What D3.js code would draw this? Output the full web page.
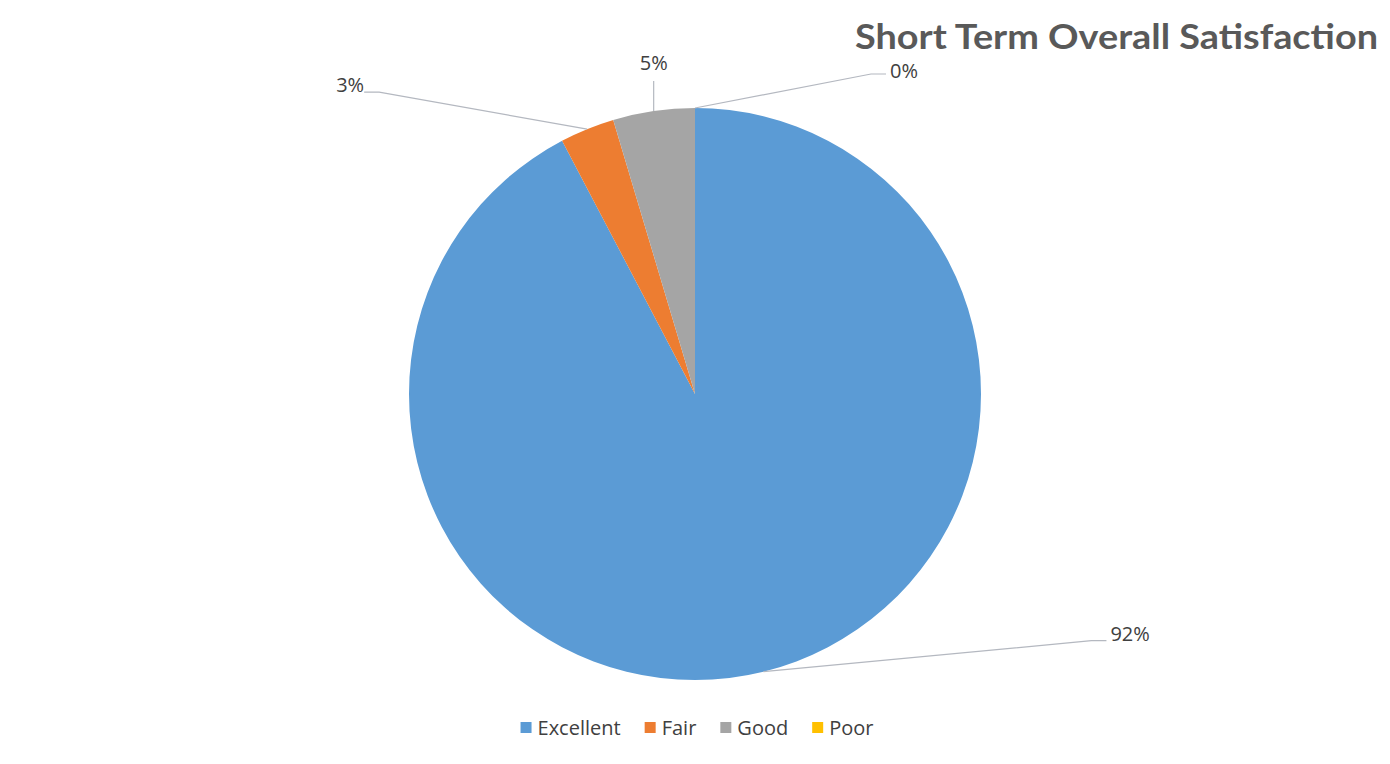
<!DOCTYPE html>
<html>
<head>
<meta charset="utf-8">
<script src="https://cdn.jsdelivr.net/npm/d3@7"></script>
<style>
  body { margin: 0; background: #fff; }
  svg { display: block; font-family: "Open Sans", "Liberation Sans", sans-serif; }
</style>
</head>
<body>
<svg width="1390" height="764"></svg>
<script>
// chart data (counts)
var categories = ["Excellent", "Fair", "Good", "Poor"];
var counts = [60, 2, 3, 0];
var colors = ["#5B9BD5", "#ED7D31", "#A5A5A5", "#FFC000"];
// label offsets from the slice edge point: [elbow dx, elbow dy, text dx, text dy]
var labelOffsets = [
  [328, -31, 347, -38],
  [-208, -37, -223, -44],
  [0, -30, 0, -48],
  [176, -34, 195, -37]
];

var svg = d3.select("svg"),
  width = +svg.attr("width"),
  height = +svg.attr("height");

var cx = 695, cy = 394, radius = 286;
var total = d3.sum(counts);

var pie = d3.pie().sort(null).value(function(d) { return d; });
var arcs = pie(counts);
var arc = d3.arc().innerRadius(0).outerRadius(radius);
var edge = d3.arc().innerRadius(radius).outerRadius(radius);

var g = svg.append("g").attr("transform", "translate(" + cx + "," + cy + ")");

g.selectAll("path.slice")
  .data(arcs)
  .enter().append("path")
  .attr("class", "slice")
  .attr("d", arc)
  .attr("fill", function(d, i) { return colors[i]; });

// leader lines + percentage labels
var lab = g.selectAll("g.lab").data(arcs).enter().append("g").attr("class", "lab");
lab.append("polyline")
  .attr("fill", "none")
  .attr("stroke", "#b4b8c0")
  .attr("stroke-width", 1.2)
  .attr("points", function(d, i) {
    var p = edge.centroid(d), o = labelOffsets[i];
    var elbow = [p[0] + o[0], p[1] + o[1]];
    if (o[2] === o[0]) return [p, elbow].join(" ");
    var endX = o[2] > o[0] ? elbow[0] + 15 : elbow[0] - 15;
    return [p, elbow, [endX, elbow[1]]].join(" ");
  });
lab.append("text")
  .attr("x", function(d, i) { return edge.centroid(d)[0] + labelOffsets[i][2]; })
  .attr("y", function(d, i) { return edge.centroid(d)[1] + labelOffsets[i][3]; })
  .attr("dy", "0.35em")
  .attr("text-anchor", function(d, i) {
    var o = labelOffsets[i];
    return o[2] > o[0] ? "start" : (o[2] < o[0] ? "end" : "middle");
  })
  .attr("font-size", 20)
  .attr("fill", "#404040")
  .text(function(d) { return Math.round(d.data / total * 100) + "%"; });

// title
svg.append("text")
  .attr("x", 1378)
  .attr("y", 49)
  .attr("text-anchor", "end")
  .attr("font-family", "Lato, 'Open Sans', sans-serif")
  .attr("font-weight", "bold")
  .attr("font-size", 34)
  .attr("fill", "#595959")
  .attr("textLength", 523)
  .attr("lengthAdjust", "spacingAndGlyphs")
  .text("Short Term Overall Satisfaction");

// legend
var legend = svg.append("g");
var x = 0;
categories.forEach(function(c, i) {
  var item = legend.append("g").attr("transform", "translate(" + x + ",0)");
  item.append("rect").attr("x", 0).attr("y", -6).attr("width", 11).attr("height", 11).attr("fill", colors[i]);
  var t = item.append("text").attr("x", 17).attr("y", 0).attr("dy", "0.35em")
    .attr("font-size", 20).attr("fill", "#404040").text(c);
  x += 17 + t.node().getComputedTextLength() + 24;
});
var legendW = x - 24;
legend.attr("transform", "translate(" + (697 - legendW / 2) + ",728)");
</script>
</body>
</html>
